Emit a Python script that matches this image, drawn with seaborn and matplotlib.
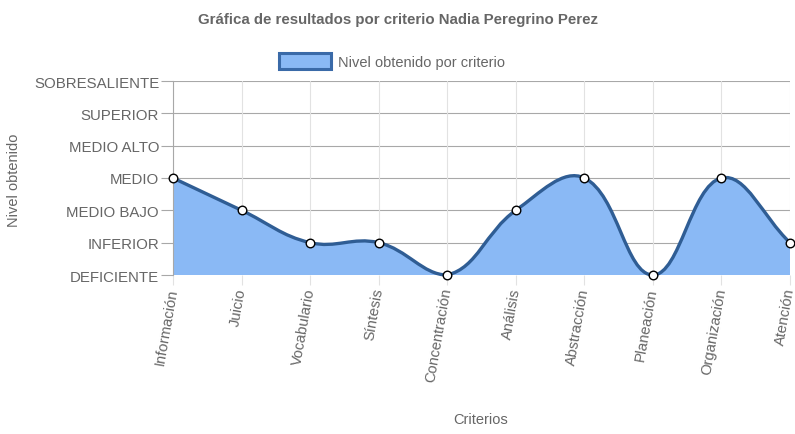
import numpy as np
import matplotlib
matplotlib.use("Agg")
import matplotlib.pyplot as plt
import seaborn as sns
from matplotlib.path import Path
from matplotlib.patches import PathPatch, Patch

# datos de la grafica
criterios = ["Información", "Juicio", "Vocabulario", "Síntesis", "Concentración",
             "Análisis", "Abstracción", "Planeación", "Organización", "Atención"]
niveles = ["DEFICIENTE", "INFERIOR", "MEDIO BAJO", "MEDIO", "MEDIO ALTO",
           "SUPERIOR", "SOBRESALIENTE"]
valores = [3, 2, 1, 1, 0, 2, 3, 0, 3, 1]

sns.set_theme(style="white")
plt.rcParams["font.family"] = ["Liberation Sans", "DejaVu Sans"]
gris = "#666666"
relleno = "#8ab9f5"
linea = "#2f5d94"

fig = plt.figure(figsize=(7.95, 4.35), dpi=100)
ax = fig.add_axes([173 / 795, 1 - 276 / 435, (790 - 173) / 795, (276 - 82) / 435])
ax.set_xlim(0, len(criterios) - 1)
ax.set_ylim(0, len(niveles) - 1)

# curva tipo Chart.js (tension 0.4), calculada en pixeles
sx = 617 / (len(criterios) - 1)
sy = 194 / (len(niveles) - 1)
xs = np.arange(len(valores)) * sx
ys = np.array(valores, dtype=float) * sy
n = len(xs)
cp_prev = []
cp_next = []
for i in range(n):
    p0 = (xs[max(i - 1, 0)], ys[max(i - 1, 0)])
    p2 = (xs[min(i + 1, n - 1)], ys[min(i + 1, n - 1)])
    d01 = np.hypot(xs[i] - p0[0], ys[i] - p0[1])
    d12 = np.hypot(p2[0] - xs[i], p2[1] - ys[i])
    tot = d01 + d12
    s01 = d01 / tot if tot else 0
    s12 = d12 / tot if tot else 0
    fa, fb = 0.4 * s01, 0.4 * s12
    cpx0 = xs[i] - fa * (p2[0] - p0[0])
    cpy0 = ys[i] - fa * (p2[1] - p0[1])
    cpx1 = xs[i] + fb * (p2[0] - p0[0])
    cpy1 = ys[i] + fb * (p2[1] - p0[1])
    cp_prev.append((np.clip(cpx0, 0, xs[-1]), np.clip(cpy0, 0, 6 * sy)))
    cp_next.append((np.clip(cpx1, 0, xs[-1]), np.clip(cpy1, 0, 6 * sy)))

verts = [(xs[0] / sx, ys[0] / sy)]
codes = [Path.MOVETO]
for i in range(1, n):
    verts += [(cp_next[i - 1][0] / sx, cp_next[i - 1][1] / sy),
              (cp_prev[i][0] / sx, cp_prev[i][1] / sy),
              (xs[i] / sx, ys[i] / sy)]
    codes += [Path.CURVE4] * 3

area_verts = verts + [(xs[-1] / sx, 0), (0, 0), verts[0]]
area_codes = codes + [Path.LINETO, Path.LINETO, Path.CLOSEPOLY]
ax.add_patch(PathPatch(Path(area_verts, area_codes), facecolor=relleno,
                       edgecolor="none", zorder=2))
ax.add_patch(PathPatch(Path(verts, codes), facecolor="none", edgecolor=linea,
                       lw=2.4, zorder=3, clip_on=False))

sns.scatterplot(x=np.arange(len(valores)), y=valores, ax=ax, color="white",
                edgecolor="black", linewidth=1.0, s=38, zorder=4, clip_on=False)

# ejes y rejilla
ax.set_xticks(np.arange(len(criterios)))
ax.set_xticklabels(criterios, rotation=80, ha="right", va="center",
                   rotation_mode="anchor", fontsize=10.6, color=gris)
ax.set_yticks(np.arange(len(niveles)))
ax.set_yticklabels(niveles, fontsize=10.8, color=gris)
ax.tick_params(axis="y", length=9, width=0.8, color="#a8a8a8", pad=1, left=True)
ax.tick_params(axis="x", length=7, width=0.8, color="#e2e2e2", pad=2, bottom=True)
for y in range(len(niveles)):
    ax.axhline(y, color="#a8a8a8", lw=0.8, zorder=1)
for x in range(len(criterios)):
    ax.axvline(x, color="#e2e2e2", lw=0.8, zorder=1)
for s in ["top", "right", "bottom"]:
    ax.spines[s].set_visible(False)
ax.spines["left"].set_color("#a8a8a8")
ax.spines["left"].set_linewidth(0.8)

fig.text(398 / 795, 1 - 20 / 435, "Gráfica de resultados por criterio Nadia Peregrino Perez",
         ha="center", va="center", fontsize=10.8, fontweight="bold", color=gris)
fig.text(14 / 795, 1 - 180 / 435, "Nivel obtenido", rotation=90, ha="center",
         va="center", fontsize=10.5, color=gris)
fig.text(481 / 795, 1 - 420 / 435, "Criterios", ha="center", va="center",
         fontsize=10.5, color=gris)

fig.legend(handles=[Patch(facecolor=relleno, edgecolor="#3a6aa8", lw=2.2,
                          label="Nivel obtenido por criterio")],
           loc="center", bbox_to_anchor=(392 / 795, 1 - 62 / 435), frameon=False,
           fontsize=10.5, labelcolor=gris, handlelength=3.6, handleheight=1.3,
           handletextpad=0.5)

plt.savefig("out.png", dpi=100)
